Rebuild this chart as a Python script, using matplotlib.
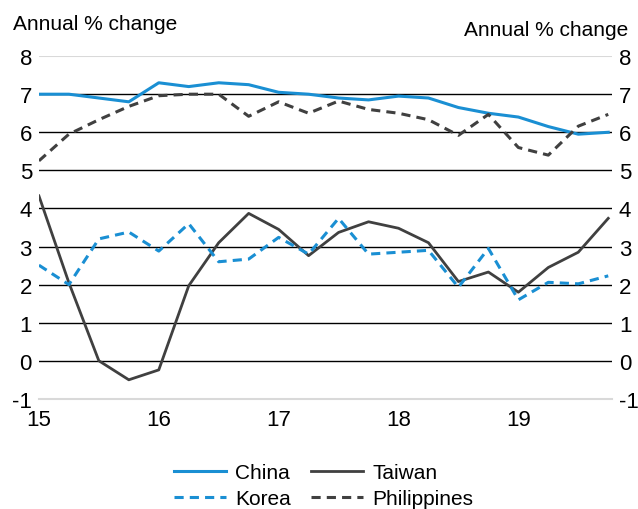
import matplotlib.pyplot as plt
import numpy as np

plt.rcParams['font.family'] = ['Liberation Sans', 'DejaVu Sans']

# quarterly data, 2015Q1 .. 2019Q4
quarters = np.arange(15, 20, 0.25)
china = [7.0, 7.0, 6.9, 6.8, 7.3, 7.2, 7.3, 7.25, 7.05, 7.0,
         6.9, 6.85, 6.95, 6.9, 6.65, 6.5, 6.4, 6.15, 5.95, 6.0]
taiwan = [4.33, 2.05, 0.0, -0.5, -0.24, 1.97, 3.1, 3.87, 3.45, 2.76,
          3.37, 3.65, 3.48, 3.1, 2.08, 2.33, 1.8, 2.45, 2.85, 3.74]
korea = [2.51, 2.0, 3.2, 3.38, 2.88, 3.6, 2.6, 2.67, 3.24, 2.8,
         3.74, 2.8, 2.85, 2.9, 1.93, 2.95, 1.6, 2.06, 2.02, 2.23]
philippines = [5.25, 5.95, 6.33, 6.68, 6.96, 7.0, 7.0, 6.42, 6.8, 6.5,
               6.82, 6.6, 6.5, 6.33, 5.92, 6.47, 5.6, 5.4, 6.16, 6.47]

xticks = [15, 16, 17, 18, 19]
yticks = list(range(-1, 9))

BLUE = "#1a8fd3"
GREY = "#404040"
LIGHT = "#d9d9d9"

fig = plt.figure(figsize=(6.38, 5.10), dpi=100)
ax = fig.add_axes([0.061, 0.216, 0.898, 0.672])

# grid lines (outer ones light grey)
for v in range(0, 8):
    ax.axhline(v, color="black", lw=1.0, zorder=1)
ax.axhline(8, color=LIGHT, lw=1.5, zorder=1)

ax.plot(quarters, china, color=BLUE, lw=2.2, label="China", zorder=3)
ax.plot(quarters, taiwan, color=GREY, lw=2.0, label="Taiwan", zorder=3)
ax.plot(quarters, korea, color=BLUE, lw=2.2, ls=(0, (3, 2)), label="Korea", zorder=3)
ax.plot(quarters, philippines, color=GREY, lw=2.2, ls=(0, (3, 2)), label="Philippines", zorder=3)

ax.set_xlim(15, 19.78)
ax.set_ylim(-1, 8)
ax.set_xticks(xticks)
ax.set_xticklabels([str(x) for x in xticks])
ax.set_yticks(yticks)
ax.set_yticklabels([str(y) for y in yticks])
ax.tick_params(axis="both", length=0, labelsize=16)
ax.tick_params(axis="x", pad=7)
ax.tick_params(axis="y", labelright=True, pad=5)

for s in ["top", "left", "right"]:
    ax.spines[s].set_visible(False)
ax.spines["bottom"].set_color(LIGHT)
ax.spines["bottom"].set_linewidth(1.5)

fig.text(0.02, 0.941, "Annual % change", fontsize=15, va="baseline")
fig.text(0.985, 0.929, "Annual % change", fontsize=15, ha="right", va="baseline")

h, l = ax.get_legend_handles_labels()
order = [0, 2, 1, 3]
fig.legend([h[i] for i in order], [l[i] for i in order], ncol=2,
           loc="center", bbox_to_anchor=(0.507, 0.046), frameon=False,
           fontsize=15, handlelength=2.5, columnspacing=0.95,
           labelspacing=0.35, handletextpad=0.45, borderpad=0)

fig.savefig("out.png", dpi=100)
